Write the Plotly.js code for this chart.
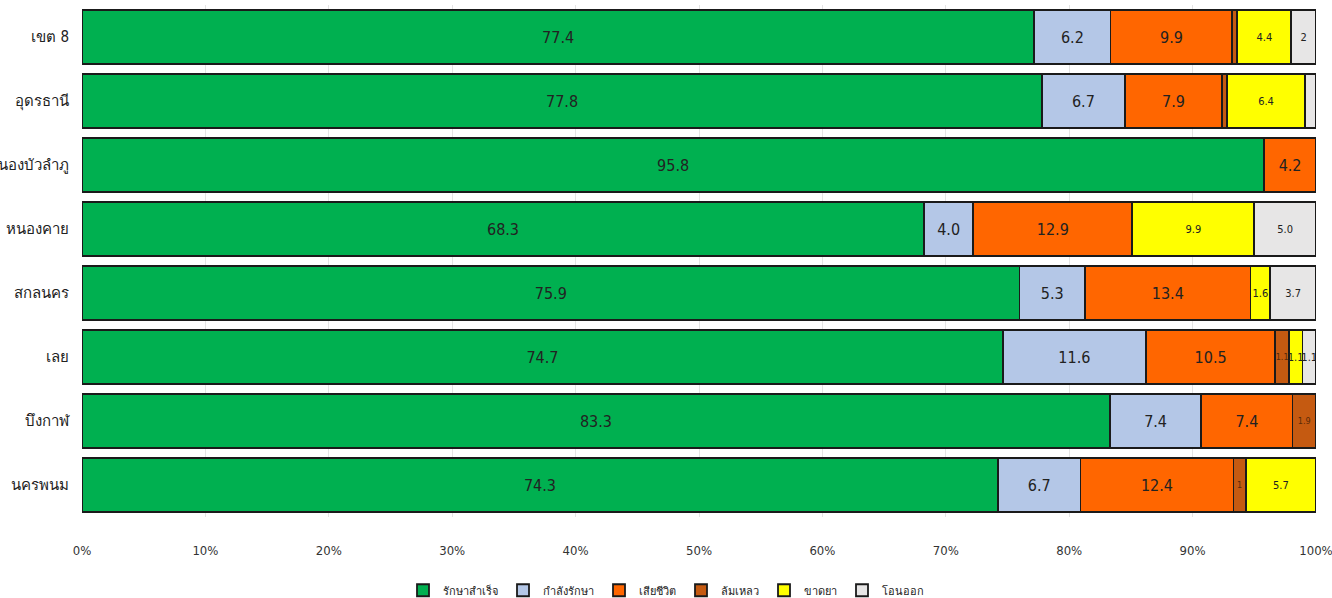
<!DOCTYPE html>
<html>
<head>
<meta charset="utf-8">
<script src="https://cdn.plot.ly/plotly-3.0.1.min.js"></script>
<style>html,body{margin:0;padding:0;background:#fff;}#chart{width:1332px;height:598px;}</style>
</head>
<body>
<div id="chart"></div>
<script>
const categories = ["เขต 8", "อุดรธานี", "หนองบัวลำภู", "หนองคาย", "สกลนคร", "เลย", "บึงกาฬ", "นครพนม"];
const seriesNames = ["รักษาสำเร็จ", "กำลังรักษา", "เสียชีวิต", "ล้มเหลว", "ขาดยา", "โอนออก"];
const success   = [77.4, 77.8, 95.8, 68.3, 75.9, 74.7, 83.3, 74.3];
const treating  = [6.2, 6.7, 0, 4.0, 5.3, 11.6, 7.4, 6.7];
const died      = [9.9, 7.9, 4.2, 12.9, 13.4, 10.5, 7.4, 12.4];
const failed    = [0.4, 0.4, 0, 0, 0, 1.1, 1.9, 1];
const defaulted = [4.4, 6.3, 0, 9.9, 1.6, 1.1, 0, 5.7];
const transfer  = [2, 0.9, 0, 5.0, 3.7, 1.1, 0, 0];
const successLbl   = ["77.4", "77.8", "95.8", "68.3", "75.9", "74.7", "83.3", "74.3"];
const treatingLbl  = ["6.2", "6.7", "", "4.0", "5.3", "11.6", "7.4", "6.7"];
const diedLbl      = ["9.9", "7.9", "4.2", "12.9", "13.4", "10.5", "7.4", "12.4"];
const failedLbl    = ["", "", "", "", "", "1.1", "1.9", "1"];
const defaultedLbl = ["4.4", "6.4", "", "9.9", "1.6", "1.1", "", "5.7"];
const transferLbl  = ["2", "", "", "5.0", "3.7", "1.1", "", ""];
const xTickVals = [0, 10, 20, 30, 40, 50, 60, 70, 80, 90, 100];
const xTickText = ["0%", "10%", "20%", "30%", "40%", "50%", "60%", "70%", "80%", "90%", "100%"];

const colors = ["#00B050", "#B4C7E7", "#FF6600", "#C55A11", "#FFFF00", "#E7E6E6"];
const values = [success, treating, died, failed, defaulted, transfer];
const labels = [successLbl, treatingLbl, diedLbl, failedLbl, defaultedLbl, transferLbl];
const textSizes = [16, 16, 16, 9, 11, 11];
const narrow = "'DejaVu Sans Condensed', 'Liberation Sans Narrow', sans-serif";

const traces = values.map((v, i) => ({
  type: "bar",
  orientation: "h",
  name: seriesNames[i],
  y: categories,
  x: v,
  text: labels[i],
  textposition: "inside",
  insidetextanchor: "middle",
  textangle: 0,
  constraintext: "none",
  textfont: {family: narrow, size: textSizes[i], color: i === 3 ? "#5a2a08" : "#222"},
  marker: {color: colors[i], line: {color: "#1a1a1a", width: 1.8}},
  hoverinfo: "name+x"
}));

const layout = {
  barmode: "stack",
  barnorm: "percent",
  bargap: 0.16,
  width: 1332,
  height: 598,
  margin: {l: 82, r: 16, t: 5, b: 81, autoexpand: false},
  paper_bgcolor: "#fff",
  plot_bgcolor: "#fff",
  font: {family: narrow, color: "#222"},
  xaxis: {
    range: [0, 100],
    tickvals: xTickVals,
    ticktext: xTickText,
    showgrid: true,
    gridcolor: "#e4e4e4",
    gridwidth: 1,
    zeroline: false,
    showline: false,
    automargin: false,
    ticklabeloverflow: "allow",
    ticklabelstandoff: 24,
    tickfont: {size: 13, color: "#333"},
    fixedrange: true
  },
  yaxis: {
    categoryorder: "array",
    categoryarray: categories,
    autorange: "reversed",
    showgrid: false,
    zeroline: false,
    showline: false,
    automargin: false,
    ticklabelstandoff: 12,
    tickfont: {size: 15, color: "#222"},
    fixedrange: true
  },
  showlegend: true,
  legend: {
    orientation: "h",
    x: 0.5,
    xanchor: "center",
    xref: "container",
    yref: "container",
    y: 0.013,
    yanchor: "middle",
    font: {size: 11, color: "#222"},
    traceorder: "normal",
    itemwidth: 30,
    tracegroupgap: 0
  }
};

Plotly.newPlot("chart", traces, layout, {displayModeBar: false, staticPlot: true});
</script>
</body>
</html>
